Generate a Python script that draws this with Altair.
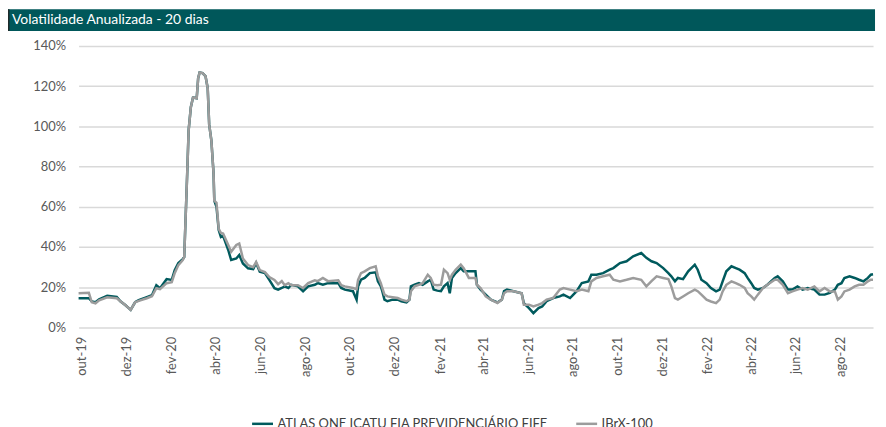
import altair as alt
import pandas as pd

TITLE = "Volatilidade Anualizada - 20 dias"
S1 = "ATLAS ONE ICATU FIA PREVIDENCIÁRIO FIFE"
S2 = "IBrX-100"

dates = [
    "2019-09-27", "2019-10-11", "2019-10-15", "2019-10-20", "2019-10-25", "2019-11-05", "2019-11-18",
    "2019-11-23", "2019-11-30", "2019-12-07", "2019-12-13", "2019-12-18", "2019-12-29", "2020-01-05",
    "2020-01-11", "2020-01-16", "2020-01-25", "2020-02-01", "2020-02-05", "2020-02-10", "2020-02-16",
    "2020-02-18", "2020-02-22", "2020-02-24", "2020-02-27", "2020-03-01", "2020-03-06", "2020-03-08",
    "2020-03-10", "2020-03-14", "2020-03-18", "2020-03-21", "2020-03-23", "2020-03-26", "2020-03-29",
    "2020-03-30", "2020-04-02", "2020-04-05", "2020-04-08", "2020-04-11", "2020-04-18", "2020-04-22",
    "2020-04-29", "2020-05-03", "2020-05-08", "2020-05-15", "2020-05-22", "2020-05-26", "2020-05-31",
    "2020-06-07", "2020-06-13", "2020-06-20", "2020-06-25", "2020-06-30", "2020-07-04", "2020-07-09",
    "2020-07-13", "2020-07-22", "2020-07-29", "2020-08-05", "2020-08-14", "2020-08-18", "2020-08-25",
    "2020-09-01", "2020-09-15", "2020-09-19", "2020-09-24", "2020-10-05", "2020-10-10", "2020-10-12",
    "2020-10-16", "2020-10-21", "2020-10-28", "2020-11-05", "2020-11-08", "2020-11-12", "2020-11-14",
    "2020-11-17", "2020-11-21", "2020-11-28", "2020-12-05", "2020-12-10", "2020-12-17", "2020-12-21",
    "2020-12-23", "2020-12-28", "2021-01-03", "2021-01-08", "2021-01-15", "2021-01-19", "2021-01-23",
    "2021-01-28", "2021-02-02", "2021-02-06", "2021-02-11", "2021-02-14", "2021-02-17", "2021-02-22",
    "2021-03-01", "2021-03-05", "2021-03-12", "2021-03-21", "2021-03-23", "2021-03-28", "2021-04-04",
    "2021-04-11", "2021-04-20", "2021-04-26", "2021-04-29", "2021-05-03", "2021-05-12", "2021-05-23",
    "2021-05-26", "2021-06-02", "2021-06-08", "2021-06-15", "2021-06-20", "2021-06-26", "2021-07-05",
    "2021-07-14", "2021-07-19", "2021-07-28", "2021-08-06", "2021-08-13", "2021-08-22", "2021-08-26",
    "2021-09-02", "2021-09-11", "2021-09-20", "2021-09-25", "2021-10-04", "2021-10-13", "2021-10-22",
    "2021-11-02", "2021-11-09", "2021-11-16", "2021-11-23", "2021-12-02", "2021-12-09", "2021-12-13",
    "2021-12-18", "2021-12-22", "2021-12-29", "2022-01-05", "2022-01-14", "2022-01-18", "2022-01-23",
    "2022-01-30", "2022-02-05", "2022-02-12", "2022-02-17", "2022-02-21", "2022-02-26", "2022-03-05",
    "2022-03-11", "2022-03-16", "2022-03-23", "2022-03-27", "2022-04-01", "2022-04-05", "2022-04-10",
    "2022-04-17", "2022-04-23", "2022-05-03", "2022-05-07", "2022-05-14", "2022-05-21", "2022-05-27",
    "2022-06-03", "2022-06-10", "2022-06-17", "2022-06-26", "2022-07-03", "2022-07-10", "2022-07-17",
    "2022-07-24", "2022-07-28", "2022-08-02", "2022-08-06", "2022-08-13", "2022-08-20", "2022-08-26",
    "2022-09-01", "2022-09-07", "2022-09-11", "2022-09-14",
]

atlas = [
    14.5, 14.5, 12.9, 12.5, 14.0, 15.7, 15.2,
    13.0, 11.0, 8.7, 12.5, 13.5, 15.0, 16.0,
    21.0, 19.5, 24.0, 23.6, 28.5, 32.0, 34.0,
    35.0, 76.0, 98.0, 109.5, 114.4, 114.0, 124.0,
    126.8, 126.5, 125.0, 119.0, 101.0, 93.0, 76.5,
    63.0, 60.0, 48.4, 45.0, 45.5, 38.5, 33.5,
    34.3, 36.0, 31.8, 29.4, 29.0, 32.0, 27.7,
    27.0, 23.6, 19.5, 18.8, 19.6, 20.4, 19.6,
    21.2, 20.4, 18.0, 20.4, 21.2, 22.0, 21.2,
    22.0, 22.0, 19.6, 18.8, 18.0, 13.8, 20.4,
    23.7, 24.6, 27.0, 27.4, 22.9, 20.4, 18.0,
    13.8, 13.0, 13.8, 13.8, 13.0, 12.4, 13.8,
    20.4, 21.2, 22.0, 21.2, 22.9, 23.7, 18.8,
    18.3, 18.0, 20.4, 22.0, 17.0, 24.6, 27.0,
    29.5, 27.9, 27.9, 27.9, 21.2, 18.8, 16.3,
    13.8, 12.4, 13.8, 18.0, 18.8, 18.0, 17.0,
    12.0, 9.6, 7.1, 9.6, 10.4, 13.0, 14.6,
    15.4, 16.3, 14.6, 18.0, 22.1, 22.9, 26.2,
    26.2, 27.0, 28.7, 29.5, 32.0, 32.9, 35.4,
    37.0, 34.6, 32.9, 32.0, 29.5, 27.0, 25.4,
    22.9, 24.6, 24.0, 27.9, 31.2, 28.7, 23.7,
    22.0, 19.6, 17.9, 18.8, 22.9, 27.9, 30.4,
    29.5, 28.7, 27.0, 24.6, 22.0, 19.6, 18.8,
    19.6, 21.2, 24.6, 25.4, 22.9, 18.8, 18.8,
    20.4, 18.8, 19.6, 18.8, 16.3, 16.3, 17.2,
    18.8, 21.2, 22.0, 24.6, 25.4, 24.6, 23.7,
    22.9, 24.6, 26.2, 26.4,
]

ibrx = [
    17.0, 17.2, 12.5, 12.0, 13.5, 15.0, 14.5,
    13.0, 11.0, 8.7, 12.5, 13.2, 14.5, 15.5,
    19.5, 19.0, 22.0, 22.5, 27.0, 31.0, 33.5,
    35.0, 76.0, 98.0, 109.5, 114.4, 114.0, 124.0,
    126.8, 126.5, 125.0, 119.0, 101.0, 93.0, 76.5,
    63.0, 62.0, 49.0, 47.0, 46.7, 41.0, 37.6,
    41.0, 41.7, 34.3, 31.0, 30.0, 32.5, 28.5,
    27.5, 25.0, 23.6, 21.5, 23.0, 21.0, 22.0,
    21.0, 21.0, 19.6, 22.0, 23.4, 23.0, 24.6,
    23.0, 23.4, 21.0, 20.4, 19.6, 19.0, 23.7,
    27.0, 27.9, 29.5, 30.4, 25.5, 22.0, 19.6,
    16.3, 15.4, 15.0, 14.6, 13.8, 13.0, 13.8,
    18.0, 20.4, 21.2, 22.0, 26.2, 24.6, 21.2,
    21.0, 21.2, 28.7, 27.0, 23.7, 26.2, 28.7,
    31.2, 29.5, 24.6, 24.6, 21.2, 19.6, 15.4,
    13.8, 12.1, 13.8, 17.0, 18.0, 18.0, 17.0,
    11.3, 11.3, 10.4, 11.3, 12.1, 13.8, 14.6,
    18.8, 19.6, 18.8, 18.0, 18.8, 18.0, 22.9,
    24.6, 25.4, 26.2, 23.7, 22.9, 23.7, 24.6,
    23.7, 20.4, 23.0, 25.4, 24.6, 24.0, 20.4,
    14.6, 13.8, 15.4, 17.0, 18.8, 18.0, 16.3,
    13.8, 12.9, 12.1, 13.8, 17.9, 21.2, 22.9,
    22.0, 21.2, 19.6, 17.0, 15.4, 13.8, 16.3,
    19.6, 21.2, 23.7, 23.7, 21.2, 17.0, 17.9,
    18.8, 19.6, 18.8, 20.4, 17.9, 19.6, 17.9,
    17.9, 13.8, 15.4, 17.9, 18.8, 20.4, 21.2,
    21.2, 22.9, 23.7, 23.7,
]

y_ticks = [0, 0.2, 0.4, 0.6, 0.8, 1.0, 1.2, 1.4]
tick_months = [(2019, 10), (2019, 12), (2020, 2), (2020, 4), (2020, 6), (2020, 8), (2020, 10), (2020, 12),
               (2021, 2), (2021, 4), (2021, 6), (2021, 8), (2021, 10), (2021, 12), (2022, 2), (2022, 4),
               (2022, 6), (2022, 8)]
x_start = (2019, 9, 27)
x_end = (2022, 9, 14)

n = len(dates)
df = pd.DataFrame({
    "date": dates + dates,
    "value": [v / 100 for v in atlas] + [v / 100 for v in ibrx],
    "series": [S1] * n + [S2] * n,
})

LABEL = "#595959"
FONT = "Lato"

month_expr = ("['jan','fev','mar','abr','mai','jun','jul','ago','set','out','nov','dez']"
              "[utcmonth(datum.value)] + '-' + utcFormat(datum.value, '%y')")

x_enc = alt.X(
    "date:T",
    title=None,
    scale=alt.Scale(
        type="utc",
        domain=[alt.DateTime(year=x_start[0], month=x_start[1], date=x_start[2], utc=True),
                alt.DateTime(year=x_end[0], month=x_end[1], date=x_end[2], utc=True)],
        nice=False,
    ),
    axis=alt.Axis(
        values=[alt.DateTime(year=y, month=m, date=1, utc=True) for y, m in tick_months],
        labelExpr=month_expr,
        labelAngle=270,
        grid=False, domain=False, ticks=False,
        labelPadding=9, labelFont=FONT, labelFontSize=13, labelColor=LABEL,
        labelOverlap=False,
    ),
)
y_enc = alt.Y(
    "value:Q",
    title=None,
    scale=alt.Scale(domain=[0, 1.4], nice=False),
    axis=alt.Axis(
        values=y_ticks, format=".0%",
        grid=True, gridColor="#D9D9D9", gridWidth=1.5,
        domain=False, ticks=False,
        labelPadding=13, labelFont=FONT, labelFontSize=13, labelColor=LABEL,
    ),
)
color_enc = alt.Color(
    "series:N",
    scale=alt.Scale(domain=[S1, S2], range=["#005A5D", "#9C9C9C"]),
    legend=alt.Legend(
        title=None, orient="none", legendX=173, legendY=368, direction="horizontal",
        symbolType="stroke", symbolSize=441, symbolStrokeWidth=2.5,
        labelFont=FONT, labelFontSize=13, labelColor="#404040", labelLimit=600,
        labelOffset=3, columnPadding=22,
    ),
)

base = alt.Chart(df)
line_atlas = base.transform_filter(alt.datum.series == S1).mark_line(strokeWidth=2.5).encode(
    x=x_enc, y=y_enc, color=color_enc)
line_ibrx = base.transform_filter(alt.datum.series == S2).mark_line(strokeWidth=2.5).encode(
    x=x_enc, y=y_enc, color=color_enc)

one = alt.Data(values=[{"k": 1}])
bar = alt.Chart(one).mark_rect(color="#00575A").encode(
    x=alt.value(-71), x2=alt.value(801), y=alt.value(-37), y2=alt.value(-15))
edge = alt.Chart(one).mark_rect(color="#1F2A2A").encode(
    x=alt.value(-71), x2=alt.value(-69.5), y=alt.value(-37), y2=alt.value(-15))
title = alt.Chart(one).mark_text(
    text=TITLE, align="left", baseline="alphabetic", font=FONT, fontSize=14, color="white"
).encode(x=alt.value(-67), y=alt.value(-22))

chart = alt.layer(bar, edge, title, line_atlas, line_ibrx).properties(
    width=799, height=283, padding=0
).configure_view(stroke=None)

chart.save("out.html", embed_options={"renderer": "svg", "actions": False})
